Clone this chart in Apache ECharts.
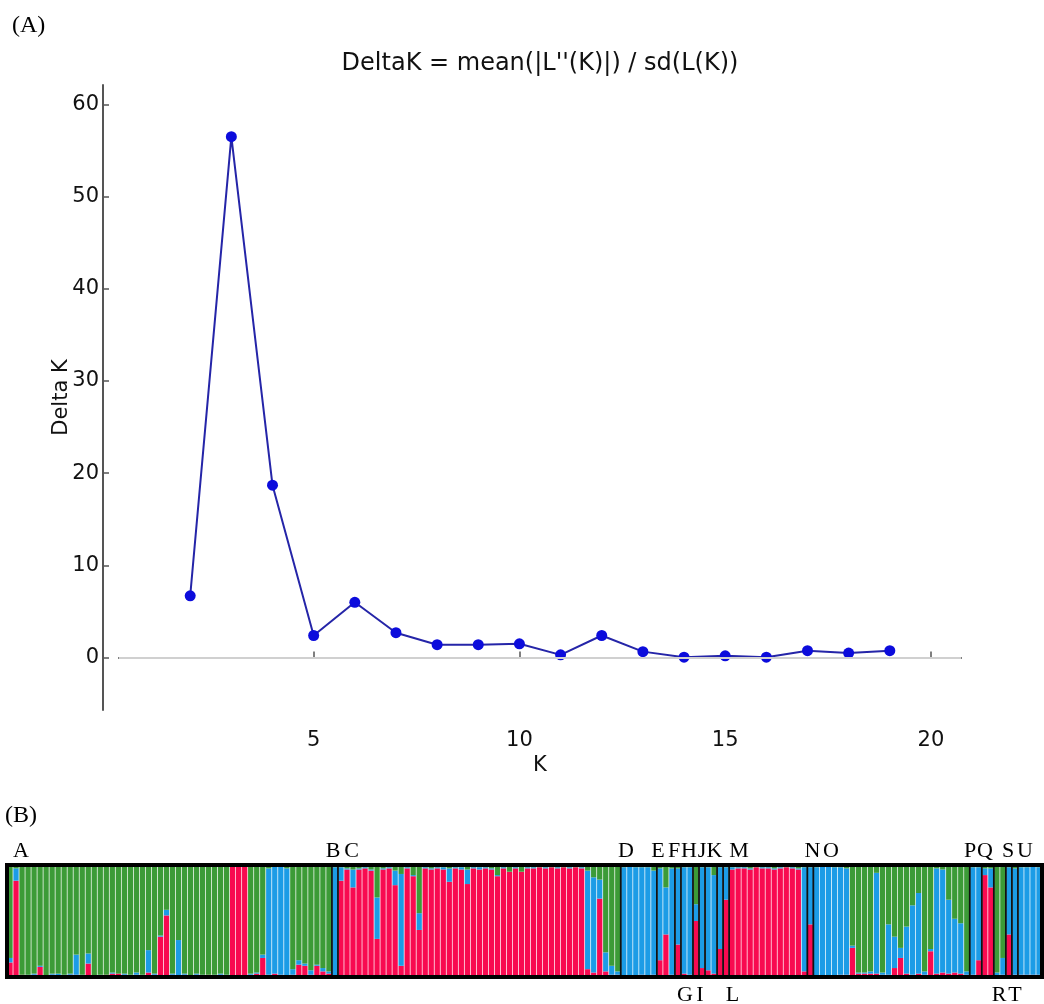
<!DOCTYPE html>
<html>
<head>
<meta charset="utf-8">
<title>DeltaK and STRUCTURE bar plot</title>
<script src="https://cdn.jsdelivr.net/npm/echarts@6.0.0/dist/echarts.min.js"></script>
<style>
  html, body { margin: 0; padding: 0; background: #fff; }
  #chart { width: 1044px; height: 1004px; }
</style>
</head>
<body>
<div id="chart"></div>
<script>
// (A) Evanno DeltaK for each K
const kValues = [2, 3, 4, 5, 6, 7, 8, 9, 10, 11, 12, 13, 14, 15, 16, 17, 18, 19];
const deltaK = [6.7, 56.5, 18.7, 2.4, 6.0, 2.7, 1.4, 1.4, 1.5, 0.3, 2.4, 0.65, 0.05, 0.2, 0.05, 0.75, 0.5, 0.75];
const kTicks = [5, 10, 15, 20];
const deltaTicks = [0, 10, 20, 30, 40, 50, 60];

// (B) membership (%) of each individual in the three clusters
const popNames = ['A', 'B', 'C', 'D', 'E', 'F', 'G', 'H', 'I', 'J', 'K', 'L', 'M', 'N', 'O', 'P', 'Q', 'R', 'S', 'T', 'U'];
const popSizes = [54, 1, 47, 6, 3, 1, 2, 1, 1, 2, 1, 1, 13, 1, 26, 2, 2, 2, 1, 1, 4];

const redQ = [
  13, 86, 2, 1, 2, 9, 1, 2, 1, 1, 2, 2, 1, 12, 1, 1, 2, 3, 3, 2, 1, 2, 1, 4, 2, 36, 55, 2, 1, 2,
  1, 2, 1, 2, 1, 2, 1, 99, 99, 99, 2, 3, 17, 2, 3, 2, 1, 2, 11, 10, 2, 10, 5, 3,
  0,
  86, 96, 80, 96, 97, 95, 34, 96, 97, 82, 10, 97, 90, 42, 97, 96, 97, 96, 85, 97, 96, 83, 97, 96, 97,
  96, 90, 97, 94, 97, 94, 97, 97, 98, 97, 98, 97, 98, 97, 98, 97, 7, 4, 70, 5, 2, 2,
  1, 1, 1, 2, 1, 2,
  15, 38, 2,
  29,
  3, 2,
  50,
  8,
  6, 3,
  25,
  69,
  96, 97, 97, 96, 98, 97, 97, 96, 97, 98, 97, 96, 5,
  47,
  1, 1, 1, 1, 2, 2, 26, 3, 3, 3, 3, 2, 2, 8, 17, 3, 2, 3, 2, 23, 3, 4, 3, 4, 3, 2,
  2, 15,
  91, 80,
  1, 2,
  38,
  2,
  2, 2, 2, 2
];
const blueQ = [
  4, 11, 0, 1, 1, 1, 0, 1, 2, 1, 1, 18, 1, 9, 0, 1, 0, 1, 0, 1, 1, 2, 1, 20, 1, 1, 5, 1, 32, 1,
  0, 1, 1, 0, 1, 1, 1, 0, 0, 0, 1, 1, 3, 95, 96, 97, 96, 5, 4, 2, 4, 1, 3, 2,
  98,
  12, 1, 16, 1, 1, 1, 37, 1, 1, 13, 82, 1, 1, 15, 1, 1, 1, 2, 12, 1, 2, 13, 1, 2, 1,
  1, 1, 1, 0, 1, 0, 1, 1, 0, 1, 0, 1, 0, 1, 0, 1, 88, 85, 17, 17, 8, 3,
  97, 98, 97, 96, 97, 93,
  82, 42, 95,
  68,
  95, 96,
  15,
  90,
  92, 88,
  73,
  29,
  2, 1, 1, 1, 0, 1, 1, 1, 1, 0, 1, 1, 93,
  51,
  97, 98, 98, 97, 96, 95, 2, 1, 1, 2, 90, 2, 45, 28, 9, 42, 62, 72, 3, 2, 94, 92, 66, 48, 45, 3,
  96, 83,
  6, 17,
  3, 15,
  60,
  95,
  96, 96, 97, 96
];
const greenQ = [
  83, 3, 98, 98, 97, 90, 99, 97, 97, 98, 97, 80, 98, 79, 99, 98, 98, 96, 97, 97, 98, 96, 98, 76, 97, 63, 40, 97, 67, 97,
  99, 97, 98, 98, 98, 97, 98, 1, 1, 1, 97, 96, 80, 3, 1, 1, 3, 93, 85, 88, 94, 89, 92, 95,
  2,
  2, 3, 4, 3, 2, 4, 29, 3, 2, 5, 8, 2, 9, 43, 2, 3, 2, 2, 3, 2, 2, 4, 2, 2, 2,
  3, 9, 2, 6, 2, 6, 2, 2, 2, 2, 2, 2, 2, 2, 2, 2, 5, 11, 13, 78, 90, 95,
  2, 1, 2, 2, 2, 5,
  3, 20, 3,
  3,
  2, 2,
  35,
  2,
  2, 9,
  2,
  2,
  2, 2, 2, 3, 2, 2, 2, 3, 2, 2, 2, 3, 2,
  2,
  2, 1, 1, 2, 2, 3, 72, 96, 96, 95, 7, 96, 53, 64, 74, 55, 36, 25, 95, 75, 3, 4, 31, 48, 52, 95,
  2, 2,
  3, 3,
  96, 83,
  2,
  3,
  2, 2, 1, 2
];

// population letters: [name, centre x in px, row]
const popLabelLayout = [
  ['A', 21, 'top'], ['B', 333, 'top'], ['C', 351.5, 'top'], ['D', 626, 'top'],
  ['E', 658, 'top'], ['F', 674, 'top'], ['H', 689, 'top'], ['J', 702, 'top'],
  ['K', 714.5, 'top'], ['M', 739, 'top'], ['N', 812.5, 'top'], ['O', 831, 'top'],
  ['P', 970, 'top'], ['Q', 985, 'top'], ['S', 1008, 'top'], ['U', 1025, 'top'],
  ['G', 685, 'bottom'], ['I', 700, 'bottom'], ['L', 732.5, 'bottom'],
  ['R', 999, 'bottom'], ['T', 1015, 'bottom']
];

const nInd = redQ.length;
const individuals = redQ.map((v, i) => String(i + 1));
const boundaries = [];
let acc = 0;
popSizes.slice(0, -1).forEach(function (n) {
  acc += n;
  boundaries.push([acc, 0]);
});

const RED = '#f80a50';
const BLUE = '#1c9ce6';
const GREEN = '#3c9b37';
const sans = '"DejaVu Sans", sans-serif';
const serif = '"Liberation Serif", serif';

const graphics = [
  { type: 'text', x: 12, y: 26, style: { text: '(A)', font: '24px ' + serif, fill: '#000', textAlign: 'left', textVerticalAlign: 'middle' } },
  { type: 'text', x: 5, y: 816, style: { text: '(B)', font: '24px ' + serif, fill: '#000', textAlign: 'left', textVerticalAlign: 'middle' } },
  { type: 'text', x: 540, y: 64, style: { text: "DeltaK = mean(|L''(K)|) / sd(L(K))", font: '24px ' + sans, fill: '#111', textAlign: 'center', textVerticalAlign: 'middle' } }
];
popLabelLayout.forEach(function (p) {
  graphics.push({
    type: 'text', x: p[1], y: p[2] === 'top' ? 851 : 995,
    style: { text: p[0], font: '22px ' + serif, fill: '#000', textAlign: 'center', textVerticalAlign: 'middle' }
  });
});

function barSeries(name, values, color) {
  return {
    name: name,
    type: 'bar',
    xAxisIndex: 1,
    yAxisIndex: 1,
    stack: 'q',
    data: values,
    barCategoryGap: '12%',
    itemStyle: { color: color },
    silent: true
  };
}

const axisColor = '#555';
const myChart = echarts.init(document.getElementById('chart'));
myChart.setOption({
  animation: false,
  backgroundColor: '#fff',
  graphic: graphics,
  grid: [
    { left: 119, top: 85, width: 842, height: 625 },
    { left: 7, top: 865, width: 1035, height: 112 }
  ],
  xAxis: [{
    type: 'value',
    gridIndex: 0,
    min: 0.27,
    max: 20.73,
    offset: 16,
    name: 'K',
    nameLocation: 'middle',
    nameGap: 29,
    nameMoveOverlap: false,
    nameTextStyle: { fontSize: 21, fontFamily: sans, color: '#111' },
    axisLine: { lineStyle: { color: axisColor, width: 2 } },
    axisTick: { inside: true, length: 6, customValues: kTicks, lineStyle: { color: axisColor, width: 1.5 } },
    axisLabel: { customValues: kTicks, fontSize: 21, fontFamily: sans, color: '#111', margin: 4 },
    splitLine: { show: false }
  }, {
    type: 'category',
    gridIndex: 1,
    data: individuals,
    show: false
  }, {
    type: 'value',
    gridIndex: 1,
    min: 0,
    max: nInd,
    show: false
  }],
  yAxis: [{
    type: 'value',
    gridIndex: 0,
    min: -5.68,
    max: 62.1,
    offset: 16,
    name: 'Delta K',
    nameLocation: 'middle',
    nameRotate: 90,
    nameGap: 31,
    nameMoveOverlap: false,
    nameTextStyle: { fontSize: 21, fontFamily: sans, color: '#111' },
    axisLine: { show: true, lineStyle: { color: axisColor, width: 2 } },
    axisTick: { show: true, inside: true, length: 6, customValues: deltaTicks, lineStyle: { color: axisColor, width: 1.5 } },
    axisLabel: { customValues: deltaTicks, fontSize: 21, fontFamily: sans, color: '#111', margin: 4 },
    splitLine: { show: false }
  }, {
    type: 'value',
    gridIndex: 1,
    min: 0,
    max: 100,
    show: false
  }],
  series: [{
    type: 'line',
    xAxisIndex: 0,
    yAxisIndex: 0,
    data: kValues.map((k, i) => [k, deltaK[i]]),
    symbol: 'circle',
    symbolSize: 11,
    z: 3,
    lineStyle: { color: '#2525a8', width: 2 },
    itemStyle: { color: '#0c0cdc' },
    emphasis: { disabled: true },
    markLine: {
      silent: true,
      symbol: 'none',
      label: { show: false },
      lineStyle: { color: '#d0d0d0', width: 2, type: 'solid' },
      data: [{ yAxis: 0 }]
    }
  },
  barSeries('red', redQ, RED),
  barSeries('blue', blueQ, BLUE),
  barSeries('green', greenQ, GREEN),
  {
    // black lines between populations
    type: 'custom',
    xAxisIndex: 2,
    yAxisIndex: 1,
    z: 5,
    silent: true,
    data: boundaries,
    renderItem: function (params, api) {
      const top = api.coord([api.value(0), 100]);
      const bottom = api.coord([api.value(0), 0]);
      return {
        type: 'line',
        shape: { x1: top[0], y1: top[1], x2: bottom[0], y2: bottom[1] },
        style: { stroke: '#111', lineWidth: 1.8 }
      };
    }
  }, {
    // heavy frame round the bar plot
    type: 'custom',
    xAxisIndex: 2,
    yAxisIndex: 1,
    z: 6,
    silent: true,
    data: [[0, nInd]],
    renderItem: function (params, api) {
      const tl = api.coord([api.value(0), 100]);
      const br = api.coord([api.value(1), 0]);
      return {
        type: 'rect',
        shape: { x: tl[0], y: tl[1], width: br[0] - tl[0], height: br[1] - tl[1] },
        style: { fill: 'none', stroke: '#000', lineWidth: 4 }
      };
    }
  }]
});

window.addEventListener('resize', function () {
  myChart.resize();
});
</script>
</body>
</html>
